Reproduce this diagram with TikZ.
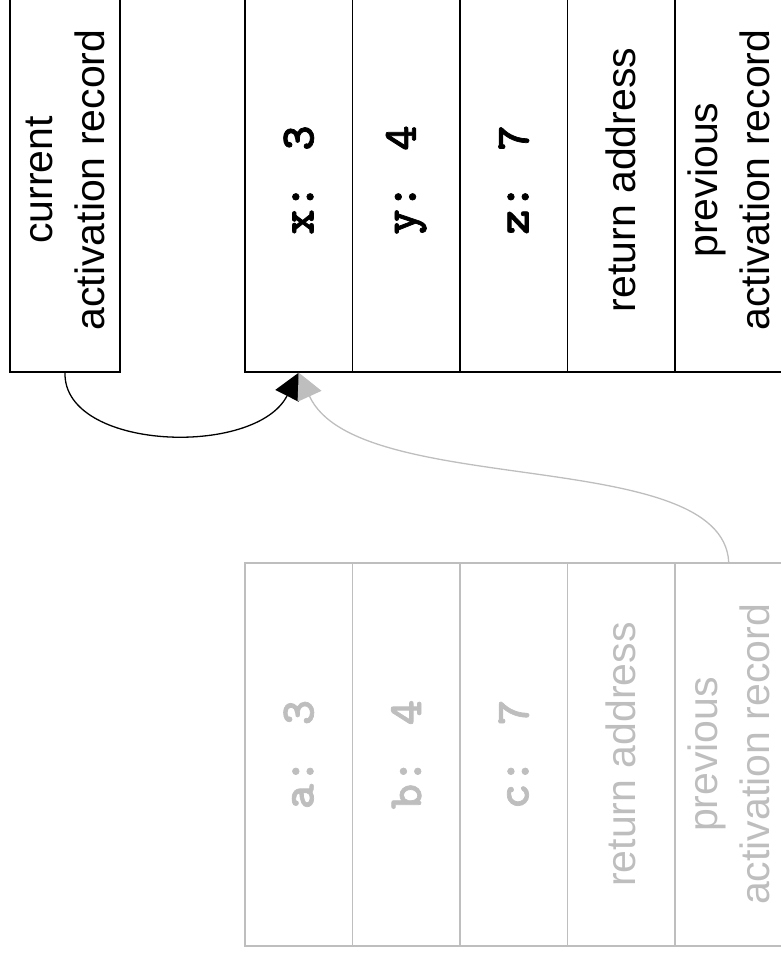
\documentclass[tikz,border=0pt]{standalone}
\usepackage{fontspec}
\setmainfont{Liberation Sans}
\newfontfamily\codefont{lmmonolt10-bold.otf}[FakeBold=1.5]
\usepackage{tikz}
\usetikzlibrary{arrows.meta}
\definecolor{faded}{RGB}{190,190,190}

\begin{document}
\begin{tikzpicture}[x=1pt, y=1pt, line width=1.3pt, >={Triangle[length=26pt, width=26pt]},
    cell/.style = {draw, rotate=90, minimum width=384pt, minimum height=107.5pt, inner sep=0pt,
                   align=center, font={\fontsize{41}{52}\selectfont}},
    var/.style = {cell, font={\fontsize{48}{54}\selectfont\codefont}},
    old/.style = {draw=faded, text=faded, minimum width=383pt}]
    \useasboundingbox (0,0) rectangle (781,-959);
    \clip (0,0) rectangle (781,-959);

    \node [cell, minimum height=110pt] (cur) at (65, -180) {current\\activation record};

    \node [var] (xcell) at (298.75, -180) {x: 3};
    \node [var] (ycell) at (406.25, -180) {y: 4};
    \node [var] (zcell) at (513.75, -180) {z: 7};
    \node [cell] (ret) at (621.25, -180) {return address};
    \node [cell] (prev) at (728.75, -180) {previous\\activation record};

    \node [var, old] (acell) at (298.75, -754.5) {a: 3};
    \node [var, old] (bcell) at (406.25, -754.5) {b: 4};
    \node [var, old] (ccell) at (513.75, -754.5) {c: 7};
    \node [cell, old] (oldret) at (621.25, -754.5) {return address};
    \node [cell, old] (oldprev) at (728.75, -754.5) {previous\\activation record};

    \draw[->] (cur.west) .. controls +(-2,-78) and +(-43,-85) .. (xcell.west);
    \draw[->, faded] (oldprev.east) .. controls +(-6,118) and +(58,-127) .. (xcell.west);

\end{tikzpicture}
\end{document}
